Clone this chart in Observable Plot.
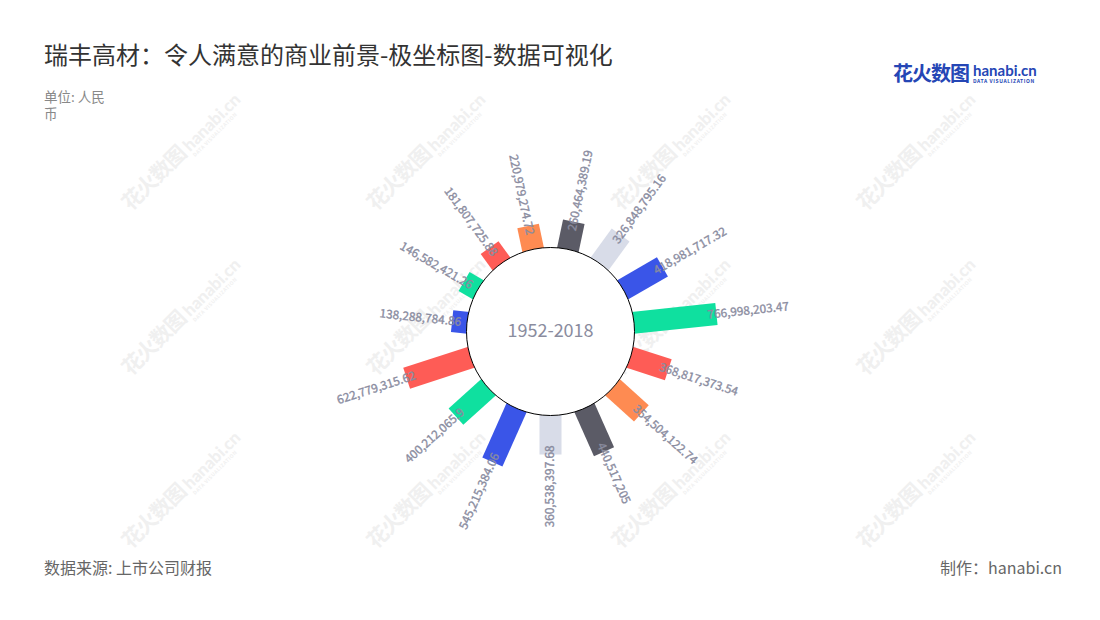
<!DOCTYPE html>
<html>
<head>
<meta charset="utf-8">
<script src="https://cdn.jsdelivr.net/npm/d3@7"></script>
<script src="https://cdn.jsdelivr.net/npm/@observablehq/plot@0.6"></script>
<style>
  body { margin: 0; background: #fff; font-family: "Noto Sans CJK SC", "Noto Sans", sans-serif; }
  #page { position: relative; width: 1100px; height: 620px; overflow: hidden; background: #fff; }
  .wm { position: absolute; transform: translate(-50%, -50%) rotate(-45deg); color: #f0f0f0; white-space: nowrap; font-weight: bold; pointer-events: none; }
  .wm .cn { font-size: 21px; letter-spacing: -1px; }
  .wm .en { display: inline-block; vertical-align: middle; line-height: 1; margin-left: 4px; }
  .wm .en b { font-family: "Lato", sans-serif; font-size: 17px; display: block; }
  .wm .en i { font-style: normal; font-size: 5px; display: block; letter-spacing: 0.5px; }
  #title { position: absolute; left: 44px; top: 38px; font-size: 24px; line-height: 32px; color: #333; }
  #sub { position: absolute; left: 44px; top: 88px; width: 72px; font-size: 13.5px; line-height: 17px; color: #888; }
  #logo { position: absolute; left: 893px; top: 58px; white-space: nowrap; color: #2546b5; }
  #logo .cn { font-size: 20px; font-weight: bold; letter-spacing: -1px; vertical-align: middle; }
  #logo .en { display: inline-block; vertical-align: middle; margin-left: 4px; line-height: 1; }
  #logo .en b { font-family: "Lato", sans-serif; font-size: 15px; display: block; }
  #logo .en i { font-style: normal; font-size: 5px; display: block; letter-spacing: 0.6px; font-weight: bold; }
  #chart { position: absolute; left: 0; top: 130px; }
  #src { position: absolute; left: 44px; top: 555px; font-size: 16px; line-height: 24px; color: #666; }
  #by { position: absolute; right: 38px; top: 555px; font-size: 16px; line-height: 24px; color: #666; }
</style>
</head>
<body>
<div id="page">
  <div id="wm"></div>
  <div id="title">瑞丰高材：令人满意的商业前景-极坐标图-数据可视化</div>
  <div id="sub">单位: 人民币</div>
  <div id="logo"><span class="cn">花火数图</span><span class="en"><b>hanabi.cn</b><i>DATA VISUALIZATION</i></span></div>
  <div id="chart"></div>
  <div id="src">数据来源: 上市公司财报</div>
  <div id="by">制作：hanabi.cn</div>
</div>
<script>
// ---- data (clockwise from the top) ----
const values = [260464389.19, 326848795.16, 418981717.32, 766998203.47, 368817373.54,
                354504122.74, 440517205, 360538397.68, 545215384.06, 400212065.9,
                622779315.62, 138288784.86, 146582421.26, 181807725.88, 220979274.72];
const barColors = ["#5b5b66", "#d8dce8", "#3a55e8", "#0fe09f", "#fe5c56",
                   "#fe8b52", "#5b5b66", "#d8dce8", "#3a55e8", "#0fe09f",
                   "#fe5c56", "#3a55e8", "#0fe09f", "#fe5c56", "#fe8b52"];
const centerLabel = "1952-2018";

// ---- watermarks (decorative) ----
const wmCols = [180, 425, 670, 915];
const wmRows = [150, 315, 488];
const wmBox = document.getElementById("wm");
for (const y of wmRows) for (const x of wmCols) {
  const d = document.createElement("div");
  d.className = "wm";
  d.style.left = x + "px"; d.style.top = y + "px";
  d.innerHTML = '<span class="cn">花火数图</span><span class="en"><b>hanabi.cn</b><i>DATA VISUALIZATION</i></span>';
  wmBox.appendChild(d);
}

// ---- geometry ----
const W = 1100, H = 420;
const cy = 201;              // circle centre within the svg
const K = 0.108e-6;          // px per unit of value
const R0 = 84 / K;           // inner radius expressed in value units
const n = values.length;
const step = 360 / n;

const rows = values.map((v, i) => {
  const deg = (i + 0.5) * step;
  const a = deg * Math.PI / 180;
  const rIn = R0 - 6 / K, rOut = R0 + v, rLab = R0 + v - 9 / K;
  return {
    i, v, deg,
    x1: rIn * Math.sin(a), y1: rIn * Math.cos(a),
    x2: rOut * Math.sin(a), y2: rOut * Math.cos(a),
    lx: rLab * Math.sin(a), ly: rLab * Math.cos(a),
    rot: deg < 180 ? deg - 90 : deg - 270,
    label: d3.format(",")(v)
  };
});

const labelStyle = { fontSize: 11.8, fill: "#8a8c9f", stroke: "#8a8c9f", strokeWidth: 0.35, fontFamily: "Noto Sans CJK SC, Noto Sans, sans-serif" };

const chart = Plot.plot({
  width: W, height: H,
  margin: 0,
  x: { domain: [-(W / 2) / K, (W / 2) / K], range: [0, W], axis: null },
  y: { domain: [-(H - cy) / K, cy / K], range: [H, 0], axis: null },
  color: { type: "ordinal", domain: d3.range(n), range: barColors },
  style: { background: "transparent", overflow: "visible" },
  marks: [
    Plot.link(rows, { x1: "x1", y1: "y1", x2: "x2", y2: "y2", stroke: "i", strokeWidth: 22, strokeLinecap: "butt" }),
    Plot.dot([0], { x: () => 0, y: () => 0, r: 84, fill: "white", stroke: "black", strokeWidth: 1 }),
    Plot.text([centerLabel], { x: () => 0, y: () => 0, text: d => d, fontSize: 18, fill: "#8a8c9e", fontFamily: "Noto Sans CJK SC, Noto Sans, sans-serif" }),
    Plot.text(rows.filter(d => d.deg < 180), { x: "lx", y: "ly", text: "label", rotate: "rot", textAnchor: "start", ...labelStyle }),
    Plot.text(rows.filter(d => d.deg >= 180), { x: "lx", y: "ly", text: "label", rotate: "rot", textAnchor: "end", ...labelStyle })
  ]
});
document.getElementById("chart").appendChild(chart);
</script>
</body>
</html>
